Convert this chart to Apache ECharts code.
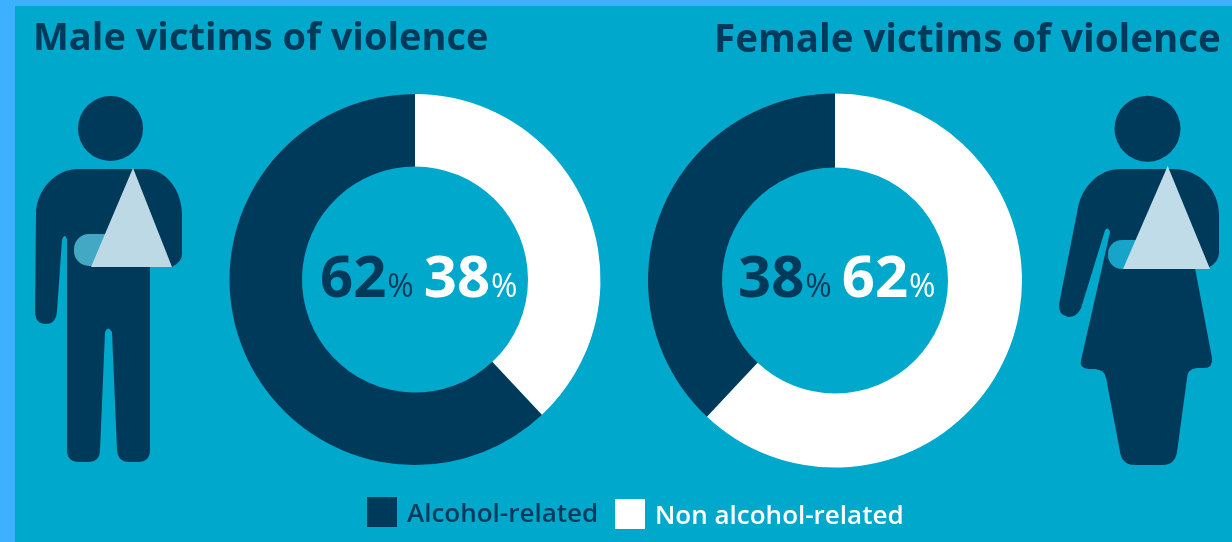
<!DOCTYPE html>
<html>
<head>
<meta charset="utf-8">
<style>
  html, body { margin: 0; padding: 0; width: 1232px; height: 542px; overflow: hidden; background: #3DB1FF; }
  #panel { position: absolute; left: 15px; top: 6px; width: 1217px; height: 536px; background: #00A8CC; }
  #chart { position: absolute; left: 0; top: 0; width: 1232px; height: 542px; }
</style>
<script src="https://cdn.jsdelivr.net/npm/echarts@6/dist/echarts.min.js"></script>
</head>
<body>
<div id="panel"></div>
<div id="chart"></div>
<script>
const categories = ['Alcohol-related', 'Non alcohol-related'];
const maleShares = [62, 38];
const femaleShares = [38, 62];
const maleTitle = 'Male victims of violence';
const femaleTitle = 'Female victims of violence';

const NAVY = '#003A5A';
const WHITE = '#FFFFFF';
const FONT = '"Open Sans", sans-serif';
const colors = [NAVY, WHITE];

const chart = echarts.init(document.getElementById('chart'), null, { renderer: 'canvas' });

function donut(shares, center, radius) {
  return {
    type: 'pie',
    silent: true,
    center: center,
    radius: radius,
    startAngle: 90,
    clockwise: false,
    label: { show: false },
    labelLine: { show: false },
    data: categories.map((name, i) => ({
      name: name,
      value: shares[i],
      itemStyle: { color: colors[i] }
    }))
  };
}

const percentRich = {
  dark: { fontFamily: FONT, fontWeight: 700, fontSize: 58, color: NAVY },
  darkPct: { fontFamily: FONT, fontWeight: 400, fontSize: 32, color: NAVY, padding: [15, 0, 0, 1] },
  light: { fontFamily: FONT, fontWeight: 700, fontSize: 58, color: WHITE },
  lightPct: { fontFamily: FONT, fontWeight: 400, fontSize: 32, color: WHITE, padding: [15, 0, 0, 1] },
  gap: { fontSize: 20, width: 10 }
};

function centreTitle(shares, left, top) {
  return {
    left: left,
    top: top,
    padding: 0,
    text: `{dark|${shares[0]}}{darkPct|%}{gap| }{light|${shares[1]}}{lightPct|%}`,
    textStyle: { rich: percentRich }
  };
}

function heading(text, left, top, size) {
  return {
    left: left,
    top: top,
    padding: 0,
    text: text,
    textStyle: { fontFamily: FONT, fontWeight: 700, fontSize: size, color: NAVY }
  };
}

function legendFor(name, left, top, color) {
  return {
    left: left,
    top: top,
    padding: 0,
    selectedMode: false,
    icon: 'rect',
    itemWidth: 30,
    itemHeight: 30,
    data: [name],
    formatter: '{t|{name}}',
    textStyle: {
      rich: {
        t: { fontFamily: FONT, fontWeight: 600, fontSize: 26, color: color, padding: [5, 0, 0, 5] }
      }
    }
  };
}

// Pictogram outlines, in page pixels
const maleBody = 'M78,169 H145 C166,169 182,190 182,215 V254 Q182,262 172,267 H150 V450 Q150,462 138,462 H129 Q118,462 117,450 L112,332 Q108,325 105,332 L100,450 Q100,462 88,462 H79 Q67,462 67,450 V240 Q65,232 62,240 L57,311 Q56,324 46,324 Q35,324 35,311 L36,215 C36,190 55,169 78,169 Z';
const femaleBody = 'M1120,169 H1173 C1200,169 1219,190 1219,215 V253 Q1219,262 1208,268 H1195 L1212,358 Q1213,368 1204,368 H1197 Q1187,369 1187,378 L1177,452 Q1175,465 1162,465 H1135 Q1122,465 1120,452 L1106,378 Q1105,370 1095,369 H1088 Q1079,368 1081,360 L1110,232 Q1108,226 1105,230 L1081,308 Q1077,317 1068,317 Q1058,315 1059,304 L1078,207 C1083,185 1100,169 1120,169 Z';

function outline(pathData, x, y, width, height) {
  return { type: 'path', shape: { pathData, x, y, width, height, layout: 'cover' }, style: { fill: NAVY } };
}

function drawFigures() {
  return {
    type: 'group',
    children: [
      outline(maleBody, 35, 169, 147, 293),
      { type: 'rect', shape: { x: 74, y: 234, width: 40, height: 32, r: [15, 0, 0, 15] }, style: { fill: '#43A8C3' } },
      { type: 'polygon', shape: { points: [[133, 168], [91, 267], [172, 267]] }, style: { fill: '#BDD9E5' } },
      outline(femaleBody, 1059, 169, 160, 296),
      { type: 'rect', shape: { x: 1108, y: 240, width: 36, height: 29, r: [14, 0, 0, 14] }, style: { fill: '#16A5C8' } },
      { type: 'polygon', shape: { points: [[1167.7, 166], [1123, 269], [1210, 269]] }, style: { fill: '#BFDCE8' } }
    ]
  };
}

chart.setOption({
  animation: false,
  backgroundColor: 'transparent',
  title: [
    heading(maleTitle, 33, 20, 38),
    heading(femaleTitle, 714, 22, 38.5),
    centreTitle(maleShares, 320, 251),
    centreTitle(femaleShares, 738, 251)
  ],
  legend: [
    legendFor(categories[0], 367, 497, NAVY),
    legendFor(categories[1], 615, 499, WHITE)
  ],
  series: [
    donut(maleShares, [415, 279.5], [113, 185.5]),
    donut(femaleShares, [835, 280.5], [113, 187]),
    { type: 'custom', coordinateSystem: 'none', silent: true, data: [0], renderItem: drawFigures }
  ],
  graphic: [
    { type: 'circle', silent: true, shape: { cx: 110.5, cy: 128.5, r: 32.5 }, style: { fill: NAVY } },
    { type: 'circle', silent: true, shape: { cx: 1147.5, cy: 128.7, r: 33 }, style: { fill: NAVY } }
  ]
});
</script>
</body>
</html>
